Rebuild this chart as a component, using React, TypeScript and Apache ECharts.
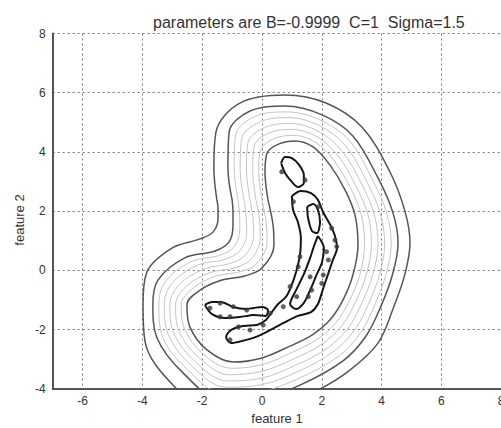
import React, { useEffect, useRef } from "react";
import * as echarts from "echarts";

const TITLE = "parameters are B=-0.9999  C=1  Sigma=1.5";
const X_LABEL = "feature 1";
const Y_LABEL = "feature 2";
const X_MIN = -7;
const X_MAX = 8;
const Y_MIN = -4;
const Y_MAX = 8;
const Y_STEP = 2;
const FONT = "'Liberation Sans', Arial, Helvetica, sans-serif";

// Outermost dark contour
const contourOuter: number[][] = [
  [-1.51, 2.38], [-1.61, 3.46], [-1.54, 4.67], [-0.74, 5.65], [0.77, 5.92], [2.14, 5.65], [3.34, 4.84],
  [4.28, 3.32], [4.78, 2.0], [4.95, 0.92], [4.78, -0.13], [4.38, -1.31], [3.88, -2.46], [2.94, -3.37],
  [1.87, -4.04], [0.0, -4.79], [-1.67, -4.79], [-3.01, -3.84], [-3.91, -2.42], [-3.98, -1.17], [-3.85, -0.06],
  [-3.01, 0.75], [-2.07, 1.06], [-1.64, 1.29], [-1.47, 1.77], [-1.47, 2.1], [-1.51, 2.38],
];
// Second dark contour
const contourDark2: number[][] = [
  [-1.0, 2.38], [-1.14, 3.46], [-1.1, 4.67], [-0.4, 5.38], [0.77, 5.55], [2.01, 5.25], [3.04, 4.54],
  [3.88, 3.12], [4.38, 1.94], [4.55, 0.92], [4.38, -0.09], [3.98, -1.21], [3.48, -2.22], [2.71, -3.06],
  [1.27, -3.88], [0.0, -4.31], [-1.34, -4.38], [-2.61, -3.5], [-3.51, -2.29], [-3.65, -1.17], [-3.48, -0.33],
  [-2.58, 0.42], [-1.57, 0.65], [-1.1, 0.96], [-0.97, 1.53], [-0.97, 1.97], [-1.0, 2.38],
];
// Light contours (outer to inner)
const contourLight5: number[][] = [
  [-0.8, 2.38], [-0.93, 3.43], [-0.89, 4.55], [-0.24, 5.2], [0.83, 5.35], [1.96, 5.07], [2.92, 4.38],
  [3.7, 3.05], [4.17, 1.93], [4.32, 0.91], [4.16, -0.1], [3.77, -1.17], [3.28, -2.13], [2.54, -2.92],
  [1.21, -3.66], [0.0, -4.09], [-1.28, -4.17], [-2.48, -3.37], [-3.33, -2.23], [-3.45, -1.17], [-3.24, -0.39],
  [-2.37, 0.29], [-1.4, 0.51], [-0.92, 0.81], [-0.74, 1.42], [-0.75, 1.9], [-0.8, 2.38],
];
const contourLight4: number[][] = [
  [-0.6, 2.38], [-0.73, 3.41], [-0.68, 4.44], [-0.08, 5.01], [0.88, 5.16], [1.91, 4.89], [2.79, 4.21],
  [3.51, 2.98], [3.96, 1.91], [4.1, 0.9], [3.94, -0.11], [3.56, -1.14], [3.08, -2.04], [2.36, -2.77],
  [1.16, -3.44], [0.0, -3.86], [-1.21, -3.95], [-2.35, -3.23], [-3.14, -2.16], [-3.27, -1.17], [-3.01, -0.44],
  [-2.16, 0.17], [-1.24, 0.37], [-0.74, 0.66], [-0.51, 1.3], [-0.53, 1.82], [-0.6, 2.38],
];
const contourLight3: number[][] = [
  [-0.4, 2.38], [-0.52, 3.39], [-0.47, 4.32], [0.08, 4.82], [0.94, 4.96], [1.86, 4.71], [2.66, 4.05],
  [3.33, 2.92], [3.75, 1.9], [3.88, 0.89], [3.71, -0.13], [3.34, -1.1], [2.88, -1.95], [2.19, -2.63],
  [1.1, -3.22], [0.0, -3.64], [-1.15, -3.74], [-2.22, -3.1], [-2.96, -2.1], [-3.08, -1.17], [-2.78, -0.5],
  [-1.96, 0.04], [-1.07, 0.23], [-0.55, 0.52], [-0.28, 1.19], [-0.3, 1.75], [-0.4, 2.38],
];
const contourLight2: number[][] = [
  [-0.2, 2.38], [-0.31, 3.36], [-0.26, 4.2], [0.24, 4.64], [0.99, 4.76], [1.81, 4.53], [2.53, 3.89],
  [3.14, 2.85], [3.54, 1.89], [3.66, 0.88], [3.49, -0.14], [3.13, -1.07], [2.68, -1.86], [2.02, -2.48],
  [1.05, -3.0], [0.0, -3.41], [-1.09, -3.53], [-2.1, -2.96], [-2.78, -2.04], [-2.89, -1.17], [-2.54, -0.55],
  [-1.75, -0.08], [-0.9, 0.09], [-0.37, 0.37], [-0.06, 1.08], [-0.08, 1.68], [-0.2, 2.38],
];
const contourLight1: number[][] = [
  [0.0, 2.38], [-0.11, 3.34], [-0.04, 4.08], [0.41, 4.45], [1.05, 4.56], [1.76, 4.34], [2.4, 3.72],
  [2.96, 2.78], [3.32, 1.88], [3.43, 0.86], [3.27, -0.15], [2.92, -1.04], [2.47, -1.77], [1.85, -2.33],
  [0.99, -2.78], [0.0, -3.19], [-1.03, -3.31], [-1.97, -2.83], [-2.59, -1.98], [-2.7, -1.17], [-2.31, -0.61],
  [-1.55, -0.2], [-0.74, -0.05], [-0.18, 0.22], [0.17, 0.97], [0.14, 1.6], [0.0, 2.38],
];
// Innermost dark contour
const contourInner: number[][] = [
  [0.2, 2.38], [0.1, 3.32], [0.17, 3.96], [0.57, 4.27], [1.1, 4.37], [1.71, 4.17], [2.27, 3.56],
  [2.78, 2.71], [3.11, 1.87], [3.21, 0.85], [3.04, -0.16], [2.71, -1.0], [2.27, -1.68], [1.67, -2.19],
  [0.94, -2.56], [0.0, -2.96], [-0.97, -3.1], [-1.84, -2.69], [-2.41, -1.92], [-2.51, -1.17], [-2.07, -0.67],
  [-1.34, -0.33], [-0.57, -0.19], [0.0, 0.08], [0.4, 0.85], [0.37, 1.53], [0.2, 2.38],
];

// Black boundary loops around the data
const loopTop: number[][] = [
  [0.64, 3.62], [0.77, 3.83], [1.0, 3.79], [1.24, 3.56], [1.4, 3.22], [1.4, 2.95], [1.2, 2.81],
  [0.97, 3.02], [0.77, 3.29], [0.64, 3.62],
];
const loopMain: number[][] = [
  [1.0, 2.51], [1.3, 2.68], [1.64, 2.61], [1.87, 2.38], [2.04, 1.97], [2.27, 1.56], [2.44, 1.16], [2.51, 0.75],
  [2.37, 0.35], [2.21, -0.13], [2.04, -0.63], [1.87, -1.14], [1.64, -1.41], [1.2, -1.54], [0.77, -1.75],
  [0.27, -2.02], [-0.2, -2.25], [-0.67, -2.39], [-1.04, -2.46], [-1.2, -2.25], [-1.04, -2.02], [-0.64, -1.88],
  [-0.17, -1.85], [0.13, -1.68], [0.33, -1.41], [0.54, -1.14], [0.8, -0.9], [0.97, -0.56], [1.14, -0.06],
  [1.27, 0.52], [1.3, 1.09], [1.2, 1.63], [1.04, 2.04], [1.0, 2.51],
];
const loopLeft: number[][] = [
  [-1.91, -1.17], [-1.67, -1.07], [-1.37, -1.07], [-0.97, -1.24], [-0.54, -1.31], [-0.27, -1.27], [0.0, -1.24],
  [0.2, -1.34], [0.13, -1.54], [-0.27, -1.51], [-0.74, -1.58], [-1.24, -1.61], [-1.67, -1.48], [-1.91, -1.17],
];
const loopNarrow: number[][] = [
  [1.51, 2.14], [1.71, 2.24], [1.87, 2.04], [1.94, 1.63], [1.84, 1.26], [1.67, 1.33], [1.54, 1.77], [1.51, 2.14],
];
const loopRight: number[][] = [
  [1.87, 1.16], [2.07, 0.75], [2.01, 0.28], [1.81, -0.19], [1.61, -0.67], [1.4, -1.1], [1.14, -1.31],
  [0.94, -1.14], [1.14, -0.67], [1.4, -0.13], [1.61, 0.42], [1.74, 0.82], [1.87, 1.16],
];

// Data points
const points: number[][] = [
  [0.66, 3.33], [1.44, 3.05], [1.05, 2.32], [1.88, 2.15], [2.33, 1.42], [2.44, 1.02], [2.5, 0.8], [2.16, 0.63],
  [2.22, 0.35], [2.05, -0.16], [2.0, -0.44], [1.66, -0.67], [1.55, -0.89], [1.16, -0.89], [1.27, 0.46],
  [1.21, 0.12], [0.94, -0.55], [0.71, -1.23], [0.27, -1.45], [-0.51, -1.34], [-0.96, -1.23], [-1.4, -1.11],
  [-1.74, -1.28], [-1.4, -1.57], [-1.07, -1.57], [-0.79, -1.91], [-0.4, -2.02], [-1.07, -2.35], [0.04, -1.85],
  [1.61, -0.22],
];

const DARK = "#555555";
const LIGHT = "#c4c4c4";
const BLACK = "#151515";

function contour(data: number[][], color: string, width: number, z: number, smooth = 0.35) {
  return {
    type: "line",
    data,
    symbol: "none",
    showSymbol: false,
    smooth,
    clip: true,
    silent: true,
    z,
    lineStyle: { color, width },
  };
}

export default function App() {
  const ref = useRef<HTMLDivElement>(null);
  useEffect(() => {
    if (!ref.current) return;
    const chart = echarts.init(ref.current, undefined, { renderer: "svg" });
    const axisLabel = { color: "#333", fontSize: 12, fontFamily: FONT };
    const splitLine = { show: true, lineStyle: { color: "#777", type: [2, 3], width: 1 } };
    const axisLine = { show: true, onZero: false, lineStyle: { color: "#555", width: 2 } };
    chart.setOption({
      animation: false,
      backgroundColor: "#ffffff",
      textStyle: { fontFamily: FONT },
      title: {
        text: TITLE,
        left: 148,
        top: 9,
        textStyle: { fontSize: 16, fontWeight: "normal", color: "#333", fontFamily: FONT },
      },
      grid: { left: 52.7, right: -0.2, top: 33.5, bottom: 39.3, containLabel: false, outerBoundsMode: "none" },
      xAxis: {
        type: "value",
        min: X_MIN,
        max: X_MAX,
        splitNumber: 7,
        name: X_LABEL,
        nameLocation: "middle",
        nameGap: 21,
        nameTextStyle: { fontSize: 13, color: "#333", fontFamily: FONT },
        axisLine,
        axisTick: { show: false },
        axisLabel: { ...axisLabel, margin: 6, showMinLabel: false, hideOverlap: false },
        splitLine,
      },
      yAxis: {
        type: "value",
        min: Y_MIN,
        max: Y_MAX,
        interval: Y_STEP,
        axisLine,
        axisTick: { show: false },
        axisLabel: { ...axisLabel, margin: 7 },
        splitLine,
      },
      graphic: [
        {
          type: "text",
          x: 19,
          y: 220,
          rotation: Math.PI / 2,
          style: {
            text: Y_LABEL,
            fontSize: 13,
            fontFamily: FONT,
            fill: "#333",
            textAlign: "center",
            textVerticalAlign: "middle",
          },
        },
      ],
      series: [
        contour(contourLight1, LIGHT, 1, 2),
        contour(contourLight2, LIGHT, 1, 2),
        contour(contourLight3, LIGHT, 1, 2),
        contour(contourLight4, LIGHT, 1, 2),
        contour(contourLight5, LIGHT, 1, 2),
        contour(contourInner, DARK, 1.5, 3),
        contour(contourDark2, DARK, 1.5, 3),
        contour(contourOuter, DARK, 1.5, 3),
        contour(loopMain, BLACK, 2, 5, 0.3),
        contour(loopTop, BLACK, 2, 5, 0.3),
        contour(loopLeft, BLACK, 2, 5, 0.3),
        contour(loopNarrow, BLACK, 2, 5, 0.3),
        contour(loopRight, BLACK, 2, 5, 0.3),
        {
          type: "scatter",
          data: points,
          symbol: "circle",
          symbolSize: 5,
          silent: true,
          z: 6,
          itemStyle: { color: "#3a3a3a" },
        },
      ],
    });
    return () => chart.dispose();
  }, []);
  return (
    <div
      ref={ref}
      style={{ position: "fixed", left: 0, top: 0, width: 501, height: 428, background: "#fff" }}
    />
  );
}
